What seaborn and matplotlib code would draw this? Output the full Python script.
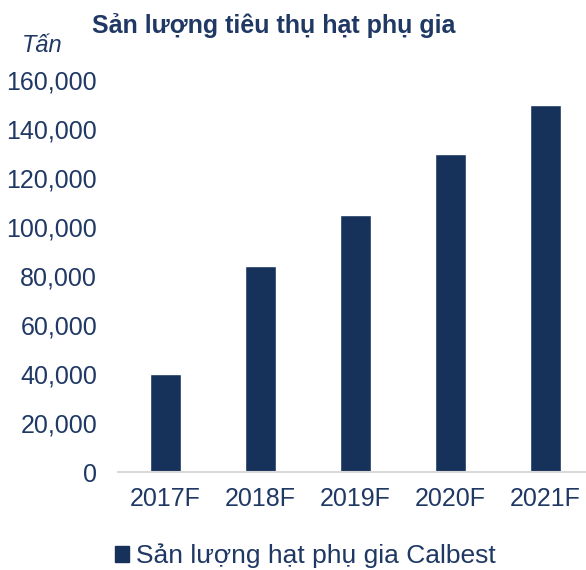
import matplotlib
matplotlib.use("Agg")
import matplotlib.pyplot as plt
import seaborn as sns
import pandas as pd
from matplotlib.ticker import FuncFormatter
from matplotlib.patches import Patch

categories = ["2017F", "2018F", "2019F", "2020F", "2021F"]
values = [40000, 84000, 105000, 130000, 150000]
series_name = "Sản lượng hạt phụ gia Calbest"
title = "Sản lượng tiêu thụ hạt phụ gia"
unit = "Tấn"

bar_color = "#17325A"
text_color = "#1F3864"

sns.set_theme(style="white")
plt.rcParams['font.family'] = ['Liberation Sans', 'DejaVu Sans']

df = pd.DataFrame({"year": categories, "value": values})

fig = plt.figure(figsize=(5.86, 5.70), dpi=100)
ax = fig.add_axes([118/586, 98/570, 475/586, 392/570])
sns.barplot(data=df, x="year", y="value", color=bar_color, width=0.32, ax=ax, saturation=1)

ax.set_ylim(0, 160000)
ax.set_xlim(-0.5, 4.5)
ax.set_yticks(range(0, 160001, 20000))
ax.yaxis.set_major_formatter(FuncFormatter(lambda v, p: f"{int(v):,}"))
ax.set_xlabel("")
ax.set_ylabel("")
for s in ["top", "right", "left"]:
    ax.spines[s].set_visible(False)
ax.spines["bottom"].set_color("#D9D9D9")
ax.spines["bottom"].set_linewidth(1.5)
ax.tick_params(axis="both", length=0, labelsize=18, colors=text_color)
ax.tick_params(axis="y", pad=15)
ax.tick_params(axis="x", pad=11)
for lbl in ax.get_xticklabels() + ax.get_yticklabels():
    lbl.set_color(text_color)

fig.text(274/586, 1 - 26/570, title, ha="center", va="center", fontsize=18,
         fontweight="bold", color=text_color)
fig.text(42/586, 1 - 46/570, unit, ha="center", va="center", fontsize=17,
         style="italic", color=text_color)

handle = Patch(facecolor=bar_color, edgecolor=bar_color)
fig.legend([handle], [series_name], loc="center", bbox_to_anchor=(305/586, 1 - 556/570),
           frameon=False, fontsize=19, labelcolor=text_color, handlelength=0.55,
           handleheight=0.6, handletextpad=0.25)

fig.savefig("out.png", dpi=100)
